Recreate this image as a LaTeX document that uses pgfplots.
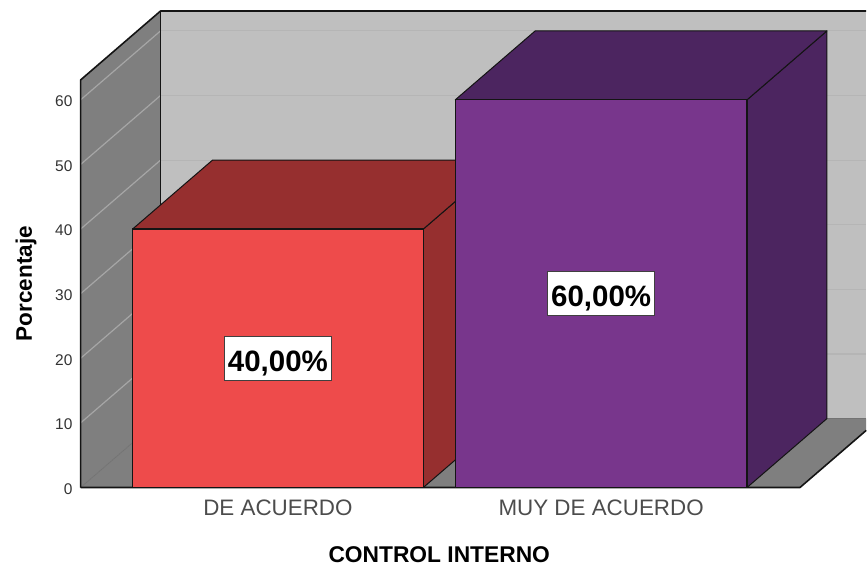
\documentclass[border=0pt]{standalone}
\usepackage{pgfplots}
\pgfplotsset{compat=1.18}
\usepackage{fontspec}
\setmainfont{Liberation Sans}
\definecolor{backwall}{HTML}{BFBFBF}
\definecolor{backgrid}{HTML}{B5B5B5}
\definecolor{sidewall}{HTML}{7F7F7F}
\definecolor{sidegrid}{HTML}{A6A6A6}
\definecolor{redF}{HTML}{EE4B4B}
\definecolor{redD}{HTML}{962F2F}
\definecolor{purF}{HTML}{78368C}
\definecolor{purD}{HTML}{4C2560}
\definecolor{edge}{HTML}{141414}
\begin{document}
\begin{tikzpicture}
\begin{axis}[
  at={(0,0)}, anchor=origin,
  scale only axis, width=786.3pt, height=487pt,
  xmin=80, xmax=866.3, ymin=0, ymax=75.3,
  clip=false,
  axis line style={draw=none},
  axis x line=bottom, axis y line=left,
  tick style={draw=none},
  no markers,
  /pgf/number format/assume math mode=true,
  ytick={0,10,20,30,40,50,60},
  yticklabel style={font=\fontsize{15.5}{17}\selectfont, text=black!80, xshift=-2.5pt, yshift=-1.5pt},
  xtick={277.5,601},
  xticklabels={DE ACUERDO,MUY DE ACUERDO},
  xticklabel style={font=\fontsize{22.4}{25}\selectfont, text=black!70, yshift=-7pt},
  xlabel={CONTROL INTERNO},
  ylabel={Porcentaje},
  xlabel style={font=\bfseries\fontsize{22.8}{25}\selectfont, at={(axis description cs:0.4565,-0.1385)}, anchor=center},
  ylabel style={font=\bfseries\fontsize{22.5}{25}\selectfont, at={(axis description cs:-0.0695,0.419)}, anchor=center},
  every axis plot/.append style={line join=round},
]
% page extent
\addplot[draw=none] coordinates {(-0.7,-12.05)(866.3,75.45)};
% back wall
\addplot[fill=backwall, draw=none] coordinates {(160,10.67)(866.3,10.67)(866.3,73.75)(160,73.75)} -- cycle;
% floor
\addplot[fill=sidewall, draw=none] coordinates {(80,0)(800,0)(866.3,8.84)(866.3,10.67)(160,10.67)} -- cycle;
% side wall
\addplot[fill=sidewall, draw=none] coordinates {(80,0)(160,10.67)(160,73.75)(80,63.08)} -- cycle;
% grid on back wall
\addplot[backgrid, line width=1.2pt] coordinates {(160,20.67)(866.3,20.67)};
\addplot[backgrid, line width=1.2pt] coordinates {(160,30.67)(866.3,30.67)};
\addplot[backgrid, line width=1.2pt] coordinates {(160,40.67)(866.3,40.67)};
\addplot[backgrid, line width=1.2pt] coordinates {(160,50.67)(866.3,50.67)};
\addplot[backgrid, line width=1.2pt] coordinates {(160,60.67)(866.3,60.67)};
\addplot[backgrid, line width=1.2pt] coordinates {(160,70.67)(866.3,70.67)};
\addplot[black!55, line width=1pt] coordinates {(160,10.67)(866.3,10.67)};
% grid on side wall
\addplot[sidegrid, line width=1.2pt] coordinates {(80,10)(160,20.67)};
\addplot[sidegrid, line width=1.2pt] coordinates {(80,20)(160,30.67)};
\addplot[sidegrid, line width=1.2pt] coordinates {(80,30)(160,40.67)};
\addplot[sidegrid, line width=1.2pt] coordinates {(80,40)(160,50.67)};
\addplot[sidegrid, line width=1.2pt] coordinates {(80,50)(160,60.67)};
\addplot[sidegrid, line width=1.2pt] coordinates {(80,60)(160,70.67)};
\addplot[black!55, line width=0.8pt] coordinates {(80,0)(160,10.67)};
% frame of walls and floor
\addplot[edge, line width=1.6pt] coordinates {(80,0)(80,63.08)(160,73.75)(866.3,73.75)};
\addplot[edge, line width=1.6pt] coordinates {(160,73.75)(160,10.67)};
\addplot[edge, line width=1.6pt] coordinates {(80,0)(800,0)(866.3,8.84)};
% bar DE ACUERDO = 40
\addplot[fill=redD, draw=edge, line width=1pt] coordinates {(423,40)(503,50.67)(503,10.67)(423,0)} -- cycle;
\addplot[fill=redD, draw=edge, line width=1pt] coordinates {(132,40)(423,40)(503,50.67)(212,50.67)} -- cycle;
\addplot[fill=redF, draw=edge, line width=1.2pt] coordinates {(132,0)(423,0)(423,40)(132,40)} -- cycle;
% bar MUY DE ACUERDO = 60
\addplot[fill=purD, draw=edge, line width=1pt] coordinates {(747,60)(827,70.67)(827,10.67)(747,0)} -- cycle;
\addplot[fill=purD, draw=edge, line width=1pt] coordinates {(455,60)(747,60)(827,70.67)(535,70.67)} -- cycle;
\addplot[fill=purF, draw=edge, line width=1.2pt] coordinates {(455,0)(747,0)(747,60)(455,60)} -- cycle;
% value labels
\node[fill=white, draw=black!75, line width=0.8pt, inner sep=0pt, minimum width=107pt, minimum height=44pt, font=\bfseries\fontsize{29.5}{31}\selectfont] at (axis cs:277.5,20) {\raisebox{-13pt}[0pt][0pt]{40,00\%}};
\node[fill=white, draw=black!75, line width=0.8pt, inner sep=0pt, minimum width=107pt, minimum height=44pt, font=\bfseries\fontsize{29.5}{31}\selectfont] at (axis cs:601,30) {\raisebox{-13pt}[0pt][0pt]{60,00\%}};
\end{axis}
\end{tikzpicture}
\end{document}
